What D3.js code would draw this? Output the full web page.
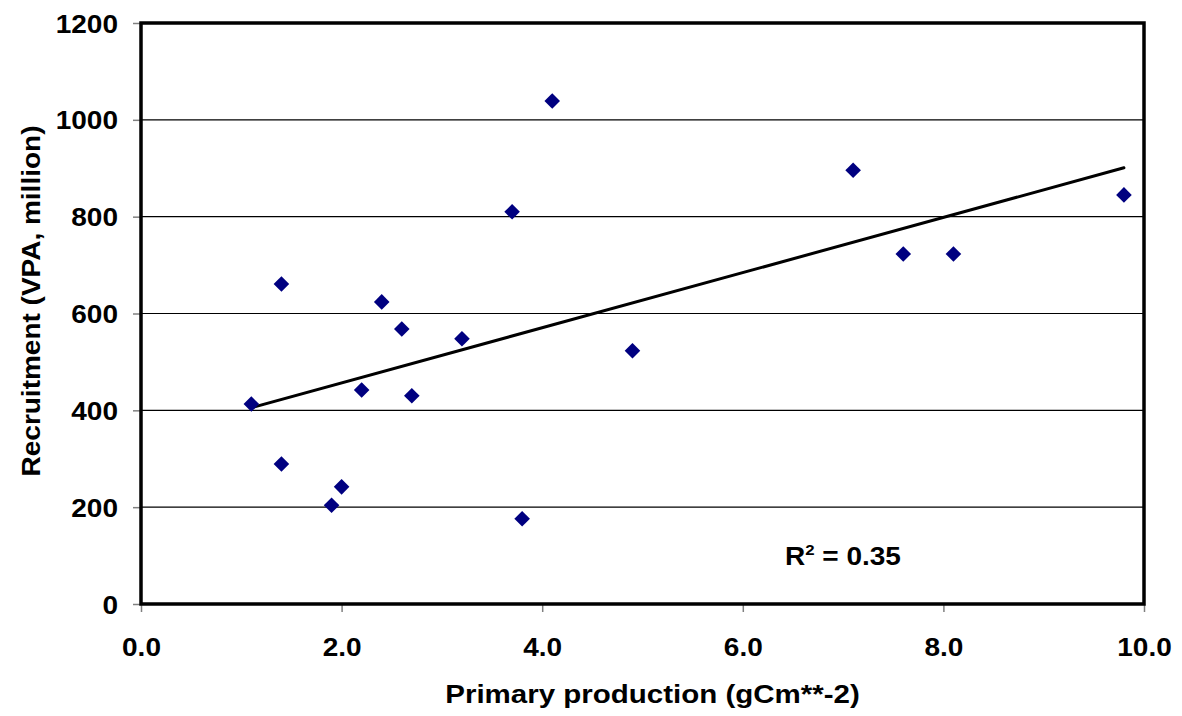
<!DOCTYPE html>
<html>
<head>
<meta charset="utf-8">
<script src="https://cdn.jsdelivr.net/npm/d3@7"></script>
<style>
  body { margin: 0; background: #fff; }
  svg text { font-family: "Liberation Sans", Arial, sans-serif; font-weight: bold; fill: #000; }
</style>
</head>
<body>
<div id="chart"></div>
<script>
// primary production (gCm**-2) vs recruitment (VPA, million)
var production = [1.1, 1.4, 1.4, 1.9, 2.0, 2.2, 2.4, 2.6, 2.7, 3.2, 3.7, 3.8, 4.1, 4.9, 7.1, 7.6, 8.1, 9.8];
var recruitment = [413, 661, 289, 204, 242, 442, 624, 568, 430, 548, 810, 176, 1039, 523, 896, 723, 723, 845];
var xTicks = [0, 2, 4, 6, 8, 10];
var yTicks = [0, 200, 400, 600, 800, 1000, 1200];
var rSquaredLabel = "0.35";

var WIDTH = 1182, HEIGHT = 716;
var margin = {left: 141, top: 23, right: 1182 - 1144, bottom: 716 - 604};
var w = WIDTH - margin.left - margin.right,
    h = HEIGHT - margin.top - margin.bottom;
var SX = 1.12; // the original text is drawn a bit wider than Arial

var svg = d3.select("#chart").append("svg")
    .attr("width", WIDTH)
    .attr("height", HEIGHT);

var g = svg.append("g")
    .attr("transform", "translate(" + margin.left + "," + margin.top + ")");

var x = d3.scaleLinear().domain([0, 10]).range([0, w]);
var y = d3.scaleLinear().domain([0, 1200]).range([h, 0]);

// gridlines
g.selectAll("line.grid")
    .data(yTicks.filter(function(d){ return d > 0 && d < 1200; }))
    .enter().append("line")
    .attr("class", "grid")
    .attr("x1", 0).attr("x2", w)
    .attr("y1", function(d){ return y(d); })
    .attr("y2", function(d){ return y(d); })
    .attr("stroke", "#000")
    .attr("stroke-width", 1.2);

// axes
var xAxis = d3.axisBottom(x).tickValues(xTicks).tickSize(8).tickPadding(14)
    .tickFormat(d3.format(".1f"));
var yAxis = d3.axisLeft(y).tickValues(yTicks).tickSize(8).tickPadding(14)
    .tickFormat(d3.format("d"));

var gx = g.append("g").attr("transform", "translate(0," + h + ")").call(xAxis);
var gy = g.append("g").call(yAxis);

[gx, gy].forEach(function(a){
    a.select(".domain").remove();
    a.selectAll(".tick line").attr("stroke", "#808080").attr("stroke-width", 1.5);
    a.selectAll(".tick text")
        .style("font-size", "25px")
        .attr("fill", "#000")
        .attr("transform", "scale(" + SX + ",1)");
});
gx.selectAll(".tick text").attr("dy", "1.2em");
gy.selectAll(".tick text").attr("dy", "0.36em").attr("x", -23 / SX);

// frame
g.append("rect")
    .attr("x", 0).attr("y", 0)
    .attr("width", w).attr("height", h)
    .attr("fill", "none")
    .attr("stroke", "#000")
    .attr("stroke-width", 3.5);

// linear trendline (least squares)
var mx = d3.mean(production), my = d3.mean(recruitment);
var sxy = d3.sum(production, function(d, i){ return (d - mx) * (recruitment[i] - my); });
var sxx = d3.sum(production, function(d){ return (d - mx) * (d - mx); });
var slope = sxy / sxx, intercept = my - slope * mx;
var ext = d3.extent(production);

g.append("line")
    .attr("x1", x(ext[0])).attr("y1", y(intercept + slope * ext[0]))
    .attr("x2", x(ext[1])).attr("y2", y(intercept + slope * ext[1]))
    .attr("stroke", "#000")
    .attr("stroke-width", 3)
    .attr("stroke-linecap", "round");

// points
g.selectAll("path.pt")
    .data(production)
    .enter().append("path")
    .attr("class", "pt")
    .attr("d", d3.symbol().type(d3.symbolDiamond2).size(155))
    .attr("transform", function(d, i){ return "translate(" + x(d) + "," + y(recruitment[i]) + ")"; })
    .attr("fill", "#000080");

// R squared
var rt = g.append("text")
    .attr("transform", "translate(" + x(6.42) + "," + y(80) + ") scale(" + SX + ",1)")
    .style("font-size", "25px");
rt.append("tspan").text("R");
rt.append("tspan").text("2").style("font-size", "15px").attr("dy", "-10");
rt.append("tspan").text(" = " + rSquaredLabel).attr("dy", "10");

// axis titles
svg.append("text")
    .attr("transform", "translate(" + (margin.left + w / 2 + 10) + ",703) scale(1.18,1)")
    .attr("text-anchor", "middle")
    .style("font-size", "25px")
    .text("Primary production (gCm**-2)");

svg.append("text")
    .attr("transform", "translate(40,301) rotate(-90) scale(" + SX + ",1)")
    .attr("text-anchor", "middle")
    .style("font-size", "25px")
    .text("Recruitment (VPA, million)");
</script>
</body>
</html>
